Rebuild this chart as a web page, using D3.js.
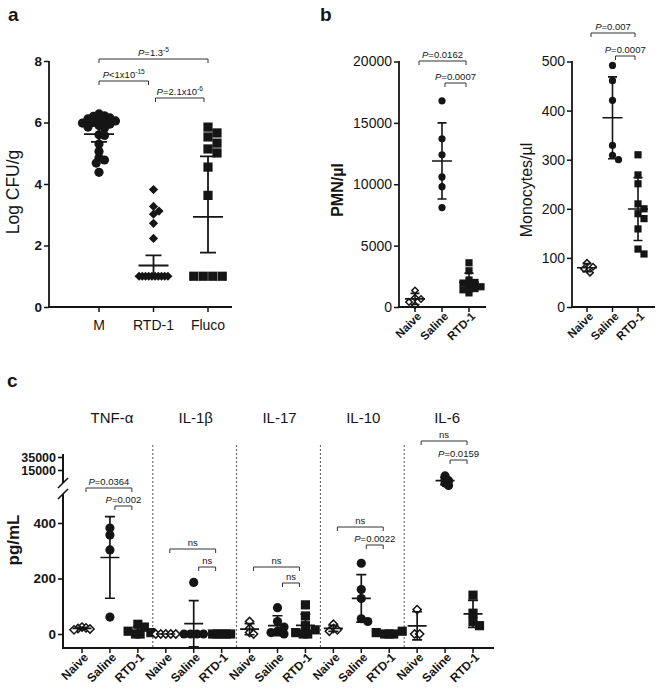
<!DOCTYPE html>
<html>
<head>
<meta charset="utf-8">
<script src="https://cdn.jsdelivr.net/npm/d3@7"></script>
<style>
  body { margin: 0; background: #fff; }
</style>
</head>
<body>
<svg id="fig" width="658" height="693"></svg>
<script>

// panel a - Log CFU/g
const aGroups = ["M", "RTD-1", "Fluco"]
const aM = [6.28, 6.22, 6.2, 6.15, 6.12, 6.1, 6.05, 6.02, 6.0, 5.98, 5.95, 5.9, 5.85, 5.82, 5.6, 5.58, 5.3, 5.06, 4.85, 4.78, 4.68, 4.38]
const aRTD = [3.82, 3.27, 3.12, 3.02, 2.72, 2.23, 1, 1, 1, 1, 1, 1, 1, 1, 1, 1]
const aFluco = [5.85, 5.66, 5.53, 5.33, 5.14, 5.01, 4.55, 3.63, 1, 1, 1, 1]
const aCenter = [5.62, 1.35, 2.93]
const aLow = [5.37, 1.0, 1.77]
const aHigh = [5.9, 1.68, 4.9]
const aTicks = [0, 2, 4, 6, 8]
const aStats = [
  { from: 0, to: 2, text: "=1.3", sup: "-5" },
  { from: 0, to: 1, text: "<1x10", sup: "-15" },
  { from: 1, to: 2, text: "=2.1x10", sup: "-6" }]

// panel b - blood counts
const bGroups = ["Naive", "Saline", "RTD-1"]
const pmnNaive = [1350, 750, 650, 400, 150]
const pmnSaline = [16800, 13700, 12400, 10600, 9800, 8100]
const pmnRTD = [3600, 2950, 2200, 2000, 1950, 1700, 1650, 1500, 1400, 1150]
const pmnTicks = [0, 5000, 10000, 15000, 20000]
const pmnStats = [{ from: 0, to: 2, text: "=0.0162" }, { from: 1, to: 2, text: "=0.0007" }]

const monoNaive = [90, 82, 78, 70]
const monoSaline = [492, 461, 421, 329, 309, 300]
const monoRTD = [310, 269, 251, 210, 200, 190, 180, 159, 118, 108]
const monoTicks = [0, 100, 200, 300, 400, 500]
const monoStats = [{ from: 0, to: 2, text: "=0.007" }, { from: 1, to: 2, text: "=0.0007" }]

// panel c - cytokines (pg/mL), IL-6 saline sits on the upper axis segment
const cCytokines = ["TNF-α", "IL-1β", "IL-17", "IL-10", "IL-6"]
const cGroups = ["Naive", "Saline", "RTD-1"]
const tnfNaive = [25, 22, 20, 18, 15]
const tnfSaline = [382, 357, 303, 61]
const tnfRTD = [35, 25, 10, 5, 0, 0]
const il1bNaive = [0, 0, 0, 0, 0]
const il1bSaline = [186, 0, 0, 0, 0]
const il1bRTD = [0, 0, 0, 0, 0]
const il17Naive = [45, 20, 5, 0]
const il17Saline = [95, 45, 25, 10, 5, 0]
const il17RTD = [105, 65, 30, 15, 5, 0, 0]
const il10Naive = [35, 20, 15, 10]
const il10Saline = [255, 160, 128, 55, 45]
const il10RTD = [10, 5, 0, 0, 0]
const il6Naive = [88, 0, 0]
const il6Saline = [10200, 8100, 7500, 6400, 5500]
const il6RTD = [140, 75, 45, 30]
const cLowTicks = [0, 200, 400]
const cHighTicks = [15000, 35000]
const cStats = [
  { cyt: 0, from: 0, to: 2, text: "=0.0364" }, { cyt: 0, from: 1, to: 2, text: "=0.002" },
  { cyt: 1, from: 0, to: 2, ns: true }, { cyt: 1, from: 1, to: 2, ns: true },
  { cyt: 2, from: 0, to: 2, ns: true }, { cyt: 2, from: 1, to: 2, ns: true },
  { cyt: 3, from: 0, to: 2, ns: true }, { cyt: 3, from: 1, to: 2, text: "=0.0022" },
  { cyt: 4, from: 0, to: 2, ns: true }, { cyt: 4, from: 1, to: 2, text: "=0.0159" }]

const ink = "#151515"
const fam = "'Liberation Sans', Arial, Helvetica, sans-serif"
const svg = d3.select("#fig").attr("font-family", fam)

// put tied values in a centred row, then fit the other points round them
function swarm(vals, y, cx, row, minD) {
  let pos = new Array(vals.length)
  let placed = []
  let counts = d3.rollup(vals, v => v.length, v => v)
  let done = new Set()
  vals.forEach(v => {
    let n = counts.get(v)
    if (n < 2 || done.has(v)) return
    done.add(v)
    let idx = vals.map((w, j) => w === v ? j : -1).filter(j => j >= 0)
    idx.forEach((j, k) => {
      pos[j] = [cx + (k - (n - 1) / 2) * row, y(v)]
      placed.push(pos[j])
    })
  })
  let singles = vals.map((v, i) => i).filter(i => counts.get(vals[i]) < 2)
    .sort((a, b) => vals[b] - vals[a])
  for (let i of singles) {
    let py = y(vals[i])
    for (let k = 0; k < 80; k++) {
      let px = cx + Math.ceil(k / 2) * (k % 2 ? 1 : -1) * minD / 2
      if (placed.every(p => Math.hypot(p[0] - px, p[1] - py) >= minD * 0.999)) {
        pos[i] = [px, py]; placed.push(pos[i]); break
      }
    }
  }
  return pos
}

function drawPoints(g, vals, y, cx, shape, o) {
  let pos = swarm(vals, y, cx, o.row[shape], o.minD)
  let s = o.size
  let open = shape == "odiamond"
  let d
  if (shape == "circle") d = d3.symbol(d3.symbolCircle, Math.PI * s * s)()
  else if (shape == "square") d = d3.symbol(d3.symbolSquare, 4 * s * s)()
  else d = d3.symbol(d3.symbolSquare, 2 * s * s * (open ? 0.8 : 1))()
  g.append("g").selectAll("path").data(pos).join("path")
    .attr("d", d)
    .attr("transform", p => `translate(${p[0]},${p[1]})` + (shape == "square" || shape == "circle" ? "" : " rotate(45)"))
    .attr("fill", open ? "#fff" : ink)
    .attr("stroke", open ? ink : "none")
    .attr("stroke-width", 1.5)
}

function meanBar(g, cx, ym, ylo, yhi, w, cap, sw) {
  let p = `M${cx - w / 2},${ym}H${cx + w / 2}` +
    `M${cx},${yhi}V${ylo}` +
    `M${cx - cap / 2},${yhi}H${cx + cap / 2}` +
    `M${cx - cap / 2},${ylo}H${cx + cap / 2}`
  g.append("path").attr("d", p).attr("stroke", ink).attr("stroke-width", sw).attr("fill", "none")
}

function bracket(g, x1, x2, y, st, fs) {
  g.append("path").attr("d", `M${x1},${y + 4}V${y}H${x2}V${y + 4}`)
    .attr("fill", "none").attr("stroke", "#333").attr("stroke-width", 1)
  let t = g.append("text").attr("x", (x1 + x2) / 2).attr("y", y - 3)
    .attr("text-anchor", "middle").attr("font-size", fs).attr("fill", ink)
  if (st.ns) { t.text("ns"); return }
  t.append("tspan").attr("font-style", "italic").text("P")
  t.append("tspan").text(st.text)
  if (st.sup) t.append("tspan").attr("dy", -4).attr("font-size", fs * 0.7).text(st.sup)
}

function yAxis(g, scale, ticks, x, fs, bold, sw) {
  let ax = g.append("g").attr("transform", `translate(${x},0)`)
    .call(d3.axisLeft(scale).tickValues(ticks).tickSize(5).tickSizeOuter(0).tickFormat(d3.format("d")))
  ax.select(".domain").remove()
  ax.selectAll("line").attr("stroke", ink).attr("stroke-width", sw)
  ax.selectAll("text").attr("fill", ink).attr("font-size", fs)
    .attr("font-family", fam).attr("font-weight", bold ? "bold" : "normal").attr("x", -7)
}

function line(g, x1, y1, x2, y2, sw) {
  g.append("line").attr("x1", x1).attr("y1", y1).attr("x2", x2).attr("y2", y2)
    .attr("stroke", ink).attr("stroke-width", sw)
}

function xTicks(g, x, keys, y0) {
  g.append("g").selectAll("line").data(keys).join("line")
    .attr("x1", d => x(d)).attr("x2", d => x(d)).attr("y1", y0).attr("y2", y0 + 5)
    .attr("stroke", ink).attr("stroke-width", 1.5)
}

function rotLabels(g, x, keys, names, y0, fs) {
  g.append("g").selectAll("text").data(keys).join("text")
    .attr("transform", (d, i) => `translate(${x(d) + 7},${y0}) rotate(-45)`)
    .attr("text-anchor", "end").attr("font-size", fs).attr("font-weight", "bold")
    .attr("fill", ink).text((d, i) => names[i])
}

function panelLetter(t, x, y) {
  svg.append("text").attr("x", x).attr("y", y).attr("font-size", 19)
    .attr("font-weight", "bold").attr("fill", ink).text(t)
}

function yTitle(t, x, y, fs, bold) {
  svg.append("text").attr("transform", `translate(${x},${y}) rotate(-90)`)
    .attr("text-anchor", "middle").attr("font-size", fs)
    .attr("font-weight", bold ? "bold" : "normal").attr("fill", ink).text(t)
}

// ---------------- panel a ----------------
{
  const g = svg.append("g")
  const y = d3.scaleLinear().domain([0, 8]).range([307, 61])
  const x = d3.scalePoint().domain(aGroups).range([99, 208])
  const opt = { size: 4.6, minD: 5.5, row: { circle: 6, diamond: 3.2, square: 9.5 } }
  const series = [aM, aRTD, aFluco]
  const shapes = ["circle", "diamond", "square"]
  series.forEach((vals, i) => drawPoints(g, vals, y, x(aGroups[i]), shapes[i], i == 2 ? { ...opt, minD: 9 } : opt))
  aGroups.forEach((k, i) => meanBar(g, x(k), y(aCenter[i]), y(aLow[i]), y(aHigh[i]), 30, 16, 1.8))

  line(g, 49, 307, 49, 61, 1.8)
  line(g, 48, 307, 232, 307, 1.8)
  yAxis(g, y, aTicks, 49, 13.5, true, 1.5)
  xTicks(g, x, aGroups, 307)
  g.append("g").selectAll("text").data(aGroups).join("text")
    .attr("x", d => x(d)).attr("y", 330).attr("text-anchor", "middle")
    .attr("font-size", 14).attr("fill", ink).text(d => d)

  const by = [59, 81, 98]
  const inset = [[0, 0], [0, -5], [2, -4]]
  aStats.forEach((s, i) => bracket(g, x(aGroups[s.from]) + inset[i][0], x(aGroups[s.to]) + inset[i][1], by[i], s, 9.5))

  yTitle("Log CFU/g", 19, 192, 17.5, false)
  panelLetter("a", 8, 21)
}

// ---------------- panel b ----------------
function countPanel(x0, x1, cats, yMax, ticks, naive, saline, rtd, stats, by, title, titleX, bold) {
  const g = svg.append("g")
  const y = d3.scaleLinear().domain([0, yMax]).range([307, 61.5])
  const x = d3.scalePoint().domain(bGroups).range(cats)
  const opt = { size: 3.6, minD: 6, row: { circle: 6, odiamond: 5, square: 6 } }
  const series = [naive, saline, rtd]
  const shapes = ["odiamond", "circle", "square"]
  series.forEach((vals, i) => drawPoints(g, vals, y, x(bGroups[i]), shapes[i], opt))
  series.forEach((vals, i) => {
    let m = d3.mean(vals), sd = d3.deviation(vals)
    meanBar(g, x(bGroups[i]), y(m), y(m - sd), y(m + sd), 20, 9, 1.6)
  })
  line(g, x0, 307, x0, 61, 1.8)
  line(g, x0 - 1, 307, x1, 307, 1.8)
  yAxis(g, y, ticks, x0, 14, false, 1.5)
  xTicks(g, x, bGroups, 307)
  rotLabels(g, x, bGroups, bGroups, 317, 11.5)
  stats.forEach((s, i) => bracket(g, x(bGroups[s.from]) + (i ? 3 : 4), x(bGroups[s.to]) - 3, by[i], s, 9.5))
  yTitle(title, titleX, 190, 16, bold)
}
countPanel(399, 486, [415, 469], 20000, pmnTicks, pmnNaive, pmnSaline, pmnRTD, pmnStats, [61, 83], "PMN/µl", 343, true)
countPanel(572, 655, [587, 638], 500, monoTicks, monoNaive, monoSaline, monoRTD, monoStats, [33, 56], "Monocytes/µl", 532, false)
panelLetter("b", 320, 21)

// ---------------- panel c ----------------
{
  const g = svg.append("g")
  const keys = cCytokines.flatMap(c => cGroups.map(k => c + "|" + k))
  const x = d3.scalePoint().domain(keys).range([82, 473])
  const yLow = d3.scaleLinear().domain([0, 400]).range([634, 523])
  const yHigh = d3.scaleLog().domain([15000, 35000]).range([470, 457])
  const data = [
    [tnfNaive, tnfSaline, tnfRTD],
    [il1bNaive, il1bSaline, il1bRTD],
    [il17Naive, il17Saline, il17RTD],
    [il10Naive, il10Saline, il10RTD],
    [il6Naive, il6Saline, il6RTD]]
  const shapes = ["odiamond", "circle", "square"]
  const opt = { size: 4.6, minD: 6.5, row: { circle: 6.5, odiamond: 5, square: 4.5 } }

  // dotted separators between cytokines
  for (let c = 1; c < cCytokines.length; c++) {
    let xs = (x(cCytokines[c - 1] + "|RTD-1") + x(cCytokines[c] + "|Naive")) / 2 + 1
    g.append("line").attr("x1", xs).attr("x2", xs).attr("y1", 445).attr("y2", 647)
      .attr("stroke", "#555").attr("stroke-width", 1).attr("stroke-dasharray", "2,2")
  }

  data.forEach((grp, c) => grp.forEach((vals, i) => {
    let y = (c == 4 && i == 1) ? yHigh : yLow
    let cx = x(cCytokines[c] + "|" + cGroups[i])
    let o = opt
    if (i == 0) o = { ...opt, minD: 4 }
    if (c == 4 && i == 1) o = { ...opt, minD: 3.5 }
    drawPoints(g, vals, y, cx, shapes[i], o)
  }))
  data.forEach((grp, c) => grp.forEach((vals, i) => {
    let y = (c == 4 && i == 1) ? yHigh : yLow
    let cx = x(cCytokines[c] + "|" + cGroups[i])
    let m = d3.mean(vals), sd = d3.deviation(vals)
    meanBar(g, cx, y(m), y(m - sd), y(m + sd), 19, 10, 1.7)
  }))

  // broken y axis
  line(g, 63, 454, 63, 483, 2)
  line(g, 63, 494, 63, 649, 2)
  line(g, 58, 488, 68, 478, 1.6)
  line(g, 58, 499, 68, 489, 1.6)
  line(g, 62, 648, 494, 648, 2)
  yAxis(g, yLow, cLowTicks, 63, 13.5, true, 1.6)
  yAxis(g, yHigh, cHighTicks, 63, 12.5, true, 1.6)
  xTicks(g, x, keys, 648)
  rotLabels(g, x, keys, keys.map(k => k.split("|")[1]), 658, 12)

  g.append("g").selectAll("text").data(cCytokines).join("text")
    .attr("x", d => x(d + "|Saline") + 2).attr("y", 423).attr("text-anchor", "middle")
    .attr("font-size", 15).attr("fill", ink).text(d => d)

  const by = [[488, 506], [549, 567], [567, 583], [527, 545], [441, 460]]
  cStats.forEach(s => {
    let lvl = s.from == 0 ? 0 : 1
    let x1 = x(cCytokines[s.cyt] + "|" + cGroups[s.from]) + (lvl ? 5 : 4)
    let x2 = x(cCytokines[s.cyt] + "|" + cGroups[s.to]) - 6
    bracket(g, x1, x2, by[s.cyt][lvl], s, 9.5)
  })

  yTitle("pg/mL", 19, 540, 17, true)
  panelLetter("c", 7, 387)
}
</script>
</body>
</html>
